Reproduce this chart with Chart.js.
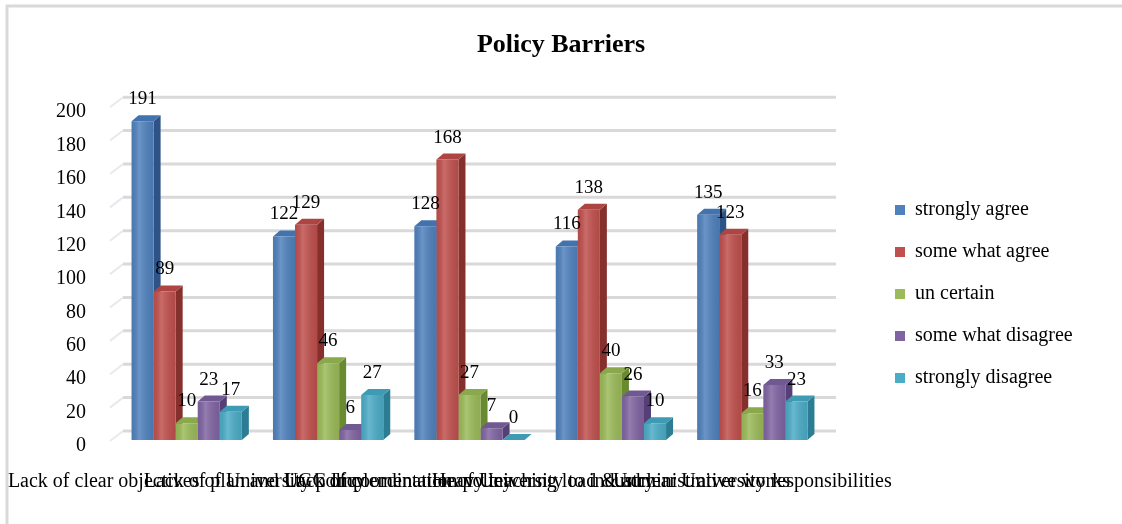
<!DOCTYPE html>
<html>
<head>
<meta charset="utf-8">
<title>Policy Barriers</title>
<script src="https://cdn.jsdelivr.net/npm/chart.js@4.4.1/dist/chart.umd.min.js"></script>
<style>
  html, body { margin: 0; padding: 0; background: #fff; }
</style>
</head>
<body>
<canvas id="myChart" width="1122" height="524"></canvas>
<script>
var categories = [
  'Lack of clear objectives of University policy',
  'Lack of plan and UGC Implementation policy',
  'Lack of coordination of University to industry',
  'Heavy teaching load & administrative works',
  'Unclear University responsibilities'
];
var seriesNames = ['strongly agree', 'some what agree', 'un certain', 'some what disagree', 'strongly disagree'];
var stronglyAgree    = [191, 122, 128, 116, 135];
var someWhatAgree    = [89, 129, 168, 138, 123];
var unCertain        = [10, 46, 27, 40, 16];
var someWhatDisagree = [23, 6, 7, 26, 33];
var stronglyDisagree = [17, 27, 0, 10, 23];
var yTicks = [0, 20, 40, 60, 80, 100, 120, 140, 160, 180, 200];

var seriesValues = [stronglyAgree, someWhatAgree, unCertain, someWhatDisagree, stronglyDisagree];
var frontColors = ['#4F81BD', '#C0504D', '#9BBB59', '#8064A2', '#4BACC6'];
var topColors   = ['#4273AE', '#AD4643', '#8AA94C', '#705893', '#3F9BB4'];
var sideColors  = ['#2E5387', '#85302D', '#6A8A32', '#563F77', '#2B7D93'];

var serif = "'Liberation Serif', 'Times New Roman', serif";
var DX = 7, DY = 6;      // depth of the bars
var WX = 13, WY = 9;     // depth of the back wall

// white page with the light frame on the left and top
var frame = {
  id: 'frame',
  beforeDraw: function (chart) {
    var ctx = chart.ctx;
    ctx.save();
    ctx.fillStyle = '#fff';
    ctx.fillRect(0, 0, chart.width, chart.height);
    ctx.strokeStyle = '#D9D9D9';
    ctx.lineWidth = 3;
    ctx.beginPath();
    ctx.moveTo(7, chart.height);
    ctx.lineTo(7, 6);
    ctx.lineTo(chart.width, 6);
    ctx.stroke();
    ctx.restore();
  }
};

// back wall grid, side wall and the top/side faces of every bar
var depth = {
  id: 'depth',
  beforeDatasetsDraw: function (chart) {
    var ctx = chart.ctx, area = chart.chartArea, y = chart.scales.y;
    ctx.save();
    yTicks.forEach(function (v) {
      var yf = y.getPixelForValue(v);
      var yb = yf - WY;
      ctx.strokeStyle = '#E6E9EE';
      ctx.lineWidth = 2;
      ctx.beginPath();
      ctx.moveTo(area.left - 6, yf + 1);
      ctx.lineTo(area.left + 7, yb);
      ctx.stroke();
      ctx.strokeStyle = '#D9D9D9';
      ctx.lineWidth = 3;
      ctx.beginPath();
      ctx.moveTo(area.left + 7, yb);
      ctx.lineTo(area.right + WX, yb);
      ctx.stroke();
    });
    chart.data.datasets.forEach(function (ds, i) {
      chart.getDatasetMeta(i).data.forEach(function (bar) {
        var p = bar.getProps(['x', 'y', 'base', 'width'], true);
        var l = p.x - p.width / 2, r = p.x + p.width / 2;
        ctx.fillStyle = sideColors[i];
        ctx.beginPath();
        ctx.moveTo(r, p.y);
        ctx.lineTo(r + DX, p.y - DY);
        ctx.lineTo(r + DX, p.base - DY);
        ctx.lineTo(r, p.base);
        ctx.closePath();
        ctx.fill();
        ctx.fillStyle = topColors[i];
        ctx.beginPath();
        ctx.moveTo(l, p.y);
        ctx.lineTo(l + DX, p.y - DY);
        ctx.lineTo(r + DX, p.y - DY);
        ctx.lineTo(r, p.y);
        ctx.closePath();
        ctx.fill();
      });
    });
    ctx.restore();
  }
};

// soft shading across the front faces, then the value above each bar
var valueLabels = {
  id: 'valueLabels',
  afterDatasetsDraw: function (chart) {
    var ctx = chart.ctx;
    ctx.save();
    chart.data.datasets.forEach(function (ds, i) {
      chart.getDatasetMeta(i).data.forEach(function (bar) {
        var p = bar.getProps(['x', 'y', 'base', 'width'], true);
        var l = p.x - p.width / 2;
        if (p.base - p.y < 1) return;
        var g = ctx.createLinearGradient(l, 0, l + p.width, 0);
        g.addColorStop(0, 'rgba(0,0,0,0.06)');
        g.addColorStop(0.35, 'rgba(255,255,255,0.16)');
        g.addColorStop(1, 'rgba(0,0,0,0.08)');
        ctx.fillStyle = g;
        ctx.fillRect(l, p.y, p.width, p.base - p.y);
      });
    });
    ctx.font = '19px ' + serif;
    ctx.fillStyle = '#000';
    ctx.textAlign = 'center';
    ctx.textBaseline = 'middle';
    chart.data.datasets.forEach(function (ds, i) {
      chart.getDatasetMeta(i).data.forEach(function (bar, j) {
        ctx.fillText(String(ds.data[j]), bar.x, bar.y - 22);
      });
    });
    ctx.restore();
  }
};

// legend keeps a fixed slot on the right and sits away from the plot
var legendPlace = {
  id: 'legendPlace',
  beforeInit: function (chart) {
    var lg = chart.legend;
    var fit = lg.fit;
    lg.fit = function () {
      fit.call(this);
      this.width = 299;
    };
  },
  afterLayout: function (chart) {
    var lg = chart.legend;
    lg.left = 873;
    lg.right = 1122;
    lg.width = 249;
    lg.top = 94;
    lg.bottom = 494;
    lg.height = 400;
  }
};

var myChart = new Chart(document.getElementById('myChart').getContext('2d'), {
  type: 'bar',
  data: {
    labels: categories,
    datasets: seriesNames.map(function (name, i) {
      return {
        label: name,
        data: seriesValues[i],
        backgroundColor: frontColors[i],
        borderWidth: 0,
        categoryPercentage: 0.78,
        barPercentage: 1
      };
    })
  },
  options: {
    responsive: false,
    animation: false,
    devicePixelRatio: 1,
    layout: { padding: { left: 0, right: 0, top: 0, bottom: 20 } },
    scales: {
      x: {
        grid: { display: false },
        border: { display: false },
        ticks: {
          autoSkip: false,
          maxRotation: 0,
          minRotation: 0,
          padding: 22,
          color: '#000',
          font: { family: serif, size: 20 }
        },
        afterFit: function (s) {
          s.paddingLeft = 0;
          s.paddingRight = 0;
          s.height = 64;
        }
      },
      y: {
        min: 0,
        max: 200,
        grid: { display: false },
        border: { display: false },
        ticks: {
          padding: 22,
          labelOffset: 6,
          color: '#000',
          font: { family: serif, size: 20 }
        },
        afterBuildTicks: function (s) {
          s.ticks = yTicks.map(function (v) { return { value: v }; });
        },
        afterFit: function (s) {
          s.width = 116;
        }
      }
    },
    plugins: {
      title: {
        display: true,
        text: 'Policy Barriers',
        color: '#000',
        font: { family: serif, size: 26, weight: 'bold' },
        padding: { top: 30, bottom: 45 }
      },
      legend: {
        position: 'right',
        labels: {
          boxWidth: 10,
          boxHeight: 10,
          padding: 22,
          color: '#000',
          font: { family: serif, size: 20 }
        }
      },
      tooltip: { enabled: false }
    }
  },
  plugins: [frame, depth, valueLabels, legendPlace]
});
</script>
</body>
</html>
